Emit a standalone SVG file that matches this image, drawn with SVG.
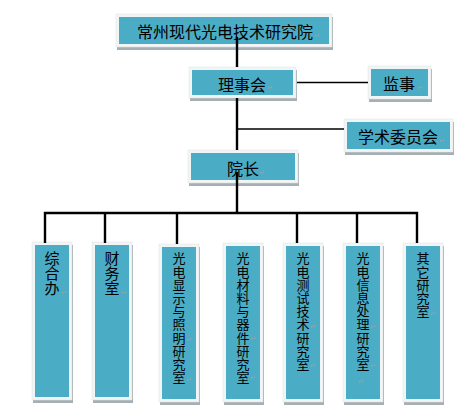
<svg xmlns="http://www.w3.org/2000/svg" width="476" height="417" viewBox="0 0 476 417">
<style>
.bg{fill:#ffffff}
.shadow{fill:#a6afb3}
.frame{fill:#f2f5f6;stroke:#dde2e4;stroke-width:0.5}
.fill{fill:#4bacc6}
.t{font-family:"Noto Sans CJK SC","Noto Sans CJK TC",sans-serif;fill:#000000}
.h{font-size:16px}
.v1{font-size:15px;writing-mode:vertical-rl}
.v2{font-size:13px;letter-spacing:0.2px;writing-mode:vertical-rl}
.ret{font-family:"DejaVu Sans",sans-serif;font-size:7px;fill:#a0a0a0}
.c{stroke:#000000;fill:none;stroke-width:2.4}
.cs{stroke:#000000;fill:none;stroke-width:1.5}
</style>
<rect class="bg" x="0" y="0" width="476" height="417"/>

<g id="node-institute">
<rect class="shadow" x="117" y="17" width="216" height="33"/>
<rect class="frame" x="116" y="14" width="216" height="33"/>
<rect class="fill" x="119" y="17" width="210" height="27"/>
<text class="t h" x="137" y="38">常州现代光电技术研究院</text>
<text class="ret" x="314" y="38">↵</text>
</g>

<g id="node-council">
<rect class="shadow" x="190" y="70" width="107" height="31"/>
<rect class="frame" x="189" y="67" width="107" height="31"/>
<rect class="fill" x="192" y="70" width="101" height="25"/>
<text class="t h" x="218" y="91">理事会</text>
<text class="ret" x="267" y="90">↵</text>
</g>

<g id="node-supervisor">
<rect class="shadow" x="369" y="69" width="63" height="33"/>
<rect class="frame" x="368" y="66" width="63" height="33"/>
<rect class="fill" x="371" y="69" width="57" height="27"/>
<text class="t h" x="383" y="90">监事</text>
<text class="ret" x="417" y="90">↵</text>
</g>

<g id="node-academic">
<rect class="shadow" x="345" y="122" width="109" height="33"/>
<rect class="frame" x="344" y="119" width="109" height="33"/>
<rect class="fill" x="347" y="122" width="103" height="27"/>
<text class="t h" x="358" y="143">学术委员会</text>
<text class="ret" x="439" y="143">↵</text>
</g>

<g id="node-president">
<rect class="shadow" x="189" y="153" width="110" height="33"/>
<rect class="frame" x="188" y="150" width="110" height="33"/>
<rect class="fill" x="191" y="153" width="104" height="27"/>
<text class="t h" x="227" y="175">院长</text>
<text class="ret" x="259" y="175">↵</text>
</g>

<g id="node-office">
<rect class="shadow" x="33" y="245" width="40" height="158"/>
<rect class="frame" x="32" y="242" width="40" height="158"/>
<rect class="fill" x="35" y="245" width="34" height="152"/>
<text class="t v1" x="52" y="251">综合办</text>
<text class="ret" x="61" y="295">↵</text>
</g>

<g id="node-finance">
<rect class="shadow" x="93" y="245" width="40" height="158"/>
<rect class="frame" x="92" y="242" width="40" height="158"/>
<rect class="fill" x="95" y="245" width="34" height="152"/>
<text class="t v1" x="112" y="251">财务室</text>
<text class="ret" x="121" y="295">↵</text>
</g>

<g id="node-display">
<rect class="shadow" x="160" y="247" width="40" height="158"/>
<rect class="frame" x="159" y="244" width="40" height="158"/>
<rect class="fill" x="162" y="247" width="34" height="152"/>
<text class="t v2" x="179" y="252">光电显示与照明研究室</text>
<text class="ret" x="186" y="342">↵</text>
<text class="ret" x="186" y="382">↵</text>
</g>

<g id="node-materials">
<rect class="shadow" x="224" y="246" width="40" height="159"/>
<rect class="frame" x="223" y="243" width="40" height="159"/>
<rect class="fill" x="226" y="246" width="34" height="153"/>
<text class="t v2" x="243" y="252">光电材料与器件研究室</text>
<text class="ret" x="250" y="341">↵</text>
<text class="ret" x="250" y="380">↵</text>
</g>

<g id="node-testing">
<rect class="shadow" x="284" y="246" width="40" height="159"/>
<rect class="frame" x="283" y="243" width="40" height="159"/>
<rect class="fill" x="286" y="246" width="34" height="153"/>
<text class="t v2" x="303" y="252">光电测试技术研究室</text>
<text class="ret" x="310" y="329">↵</text>
<text class="ret" x="310" y="368">↵</text>
</g>

<g id="node-info">
<rect class="shadow" x="344" y="246" width="40" height="159"/>
<rect class="frame" x="343" y="243" width="40" height="159"/>
<rect class="fill" x="346" y="246" width="34" height="153"/>
<text class="t v2" x="363" y="252">光电信息处理研究室</text>
<text class="ret" x="370" y="329">↵</text>
<text class="ret" x="370" y="368">↵</text>
<text class="ret" x="358" y="384">↵</text>
</g>

<g id="node-other">
<rect class="shadow" x="404" y="246" width="40" height="159"/>
<rect class="frame" x="403" y="243" width="40" height="159"/>
<rect class="fill" x="406" y="246" width="34" height="153"/>
<text class="t v2" x="423" y="252">其它研究室</text>
<text class="ret" x="430" y="316">↵</text>
</g>

<g id="connectors">
<path class="c" d="M237 37 V67 M237 98 V150 M237 172 V213"/>
<path class="cs" d="M297 82.5 H368"/>
<path class="cs" d="M237 129 H344"/>
<path class="c" d="M45 243 V213 H417 V243 M105 213 V243 M177 213 V244 M297 213 V243 M357 213 V243"/>
</g>
</svg>
